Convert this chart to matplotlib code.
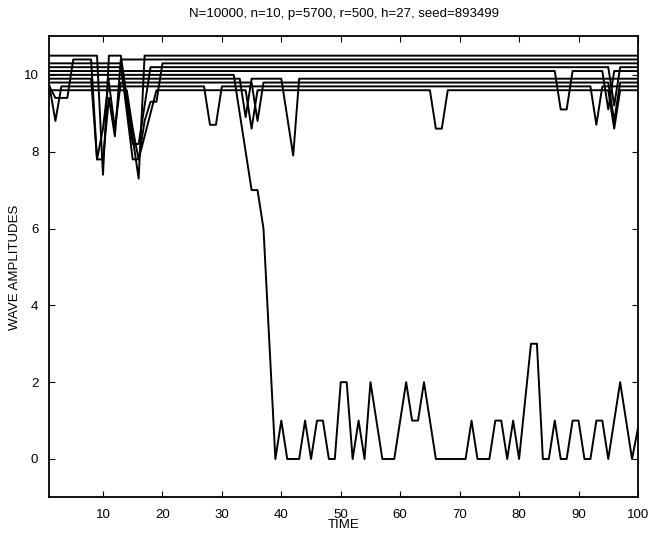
import matplotlib
matplotlib.use("Agg")
import matplotlib.pyplot as plt

# wave vertices (time, amplitude)
fall_t = [1, 32, 33, 34, 35, 36, 37, 38, 39, 40, 41, 43, 44, 45, 46, 47, 48, 49, 50, 51, 52,
          53, 54, 55, 57, 59, 61, 62, 63, 64, 66, 71, 72, 73, 75, 76, 77, 78, 79, 80, 82,
          83, 84, 85, 86, 87, 88, 89, 90, 91, 92, 93, 94, 95, 97, 99, 100]
fall_v = [10.0, 10.0, 9.0, 8.0, 7.0, 7.0, 6.0, 3.0, 0, 1, 0, 0, 1, 0, 1, 1, 0, 0, 2, 2, 0,
          1, 0, 2, 0, 0, 2, 1, 1, 2, 0, 0, 1, 0, 0, 1, 1, 0, 1, 0, 3,
          3, 0, 0, 1, 0, 0, 1, 1, 0, 0, 1, 1, 0, 2, 0, 0.8]

w0_t = [1, 9, 10, 11, 13, 16, 17, 100]
w0_v = [10.5, 10.5, 7.4, 10.5, 10.5, 7.3, 10.5, 10.5]
w1_t = [1, 2, 4, 5, 8, 9, 10, 11, 12, 13, 100]
w1_v = [9.7, 9.4, 9.4, 10.4, 10.4, 7.8, 7.8, 9.4, 8.4, 10.4, 10.4]
w2_t = [1, 13, 15, 16, 17, 18, 19, 20, 100]
w2_v = [10.3, 10.3, 7.8, 7.8, 8.8, 9.3, 9.3, 10.3, 10.3]
w3_t = [1, 13, 14, 15, 16, 18, 95, 96, 97, 100]
w3_v = [10.2, 10.2, 9.2, 8.2, 8.2, 10.2, 10.2, 9.2, 10.2, 10.2]
w4_t = [1, 86, 87, 88, 89, 94, 95, 96, 100]
w4_v = [10.1, 10.1, 9.1, 9.1, 10.1, 10.1, 9.1, 10.1, 10.1]
w6_t = [1, 8, 9, 10, 11, 33, 34, 35, 40, 42, 43, 100]
w6_v = [9.9, 9.9, 7.8, 8.6, 9.9, 9.9, 8.9, 9.9, 9.9, 7.9, 9.9, 9.9]
w7_t = [1, 11, 12, 13, 35, 36, 37, 95, 96, 97, 100]
w7_v = [9.8, 9.8, 8.6, 9.8, 9.8, 8.8, 9.8, 9.8, 8.8, 9.8, 9.8]
w8_t = [1, 2, 3, 27, 28, 29, 30, 92, 93, 94, 100]
w8_v = [9.7, 8.8, 9.7, 9.7, 8.7, 8.7, 9.7, 9.7, 8.7, 9.7, 9.7]
w9_t = [1, 14, 15, 16, 18, 19, 34, 35, 36, 65, 66, 67, 68, 95, 96, 97, 100]
w9_v = [9.6, 9.6, 8.6, 7.8, 9.0, 9.6, 9.6, 8.6, 9.6, 9.6, 8.6, 8.6, 9.6, 9.6, 8.6, 9.6, 9.6]

waves = [(w0_t, w0_v), (w1_t, w1_v), (w2_t, w2_v), (w3_t, w3_v), (w4_t, w4_v),
         (fall_t, fall_v), (w6_t, w6_v), (w7_t, w7_v), (w8_t, w8_v), (w9_t, w9_v)]

title = "N=10000, n=10, p=5700, r=500, h=27, seed=893499"

plt.rcParams['font.family'] = ['Liberation Sans', 'DejaVu Sans']
plt.rcParams['font.size'] = 9.5

fig = plt.figure(figsize=(6.51, 5.36), dpi=100)
ax = fig.add_axes([0.076, 0.072, 0.904, 0.86])

for t, v in waves:
    ax.plot(t, v, color='black', linewidth=1.4)

ax.set_xlim(1, 100)
ax.set_ylim(-1, 11)
ax.set_xticks(range(10, 101, 10))
ax.set_yticks(range(0, 11, 2))
ax.tick_params(direction='in', top=True, right=True, length=4, width=0.8, pad=8)
for s in ax.spines.values():
    s.set_linewidth(1.3)
ax.set_xlabel('TIME', labelpad=-1)
ax.set_ylabel('WAVE AMPLITUDES', labelpad=2)
ax.set_title(title, fontsize=9.5, pad=14)

fig.savefig('out.png', dpi=100)
